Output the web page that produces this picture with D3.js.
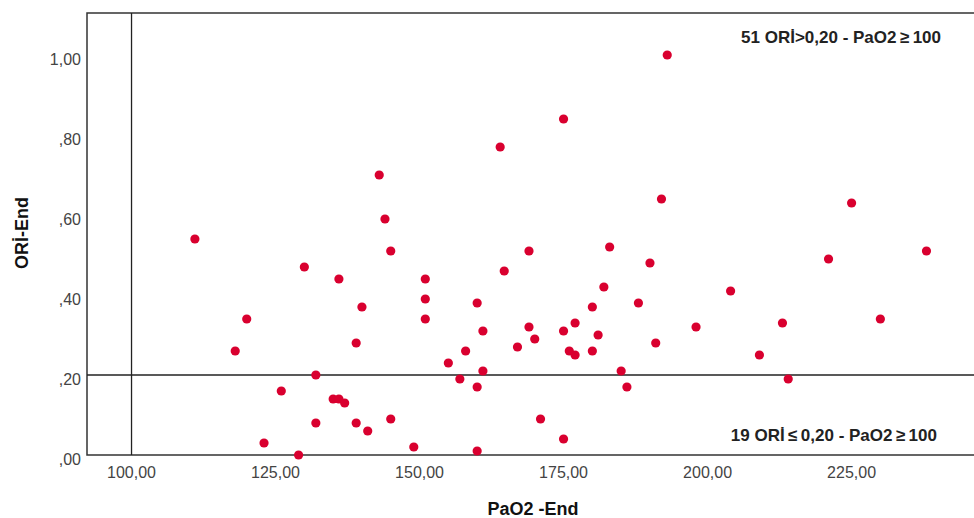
<!DOCTYPE html>
<html lang="tr">
<head>
<meta charset="UTF-8">
<title>ORİ-End / PaO2 -End</title>
<script src="https://cdn.jsdelivr.net/npm/d3@7"></script>
<style>
    body { margin: 0; background: #fff; }
    svg { display: block; font-family: "Liberation Sans", Arial, sans-serif; }
    .tick-label { font-size: 16px; fill: #444; }
    .axis-title { font-size: 18px; font-weight: bold; fill: #111; }
    .note { font-size: 17px; font-weight: bold; fill: #222; }
</style>
</head>
<body>
<div id="chart"></div>
<script>
    // PaO2 -End values
    const pao2 = [111, 120, 118, 130, 126, 123, 129, 132, 132, 135, 136, 137, 136, 139, 140, 139, 141,
        143, 144, 145, 145, 149, 151, 151, 151, 155, 157, 158, 160, 160, 161, 161, 160, 164, 164.7,
        167, 169, 169, 170, 171, 175, 175, 175, 176, 177, 177, 180, 180, 181, 182, 183, 185, 186,
        188, 190, 191, 193, 192, 198, 204, 209, 213, 214, 221, 225, 230, 238];
    // ORİ-End values
    const ori = [0.54, 0.34, 0.26, 0.47, 0.16, 0.03, 0.00, 0.20, 0.08, 0.14, 0.14, 0.13, 0.44, 0.28, 0.37, 0.08, 0.06,
        0.70, 0.59, 0.51, 0.09, 0.02, 0.44, 0.39, 0.34, 0.23, 0.19, 0.26, 0.17, 0.38, 0.21, 0.31, 0.01, 0.77, 0.46,
        0.27, 0.51, 0.32, 0.29, 0.09, 0.84, 0.31, 0.04, 0.26, 0.25, 0.33, 0.37, 0.26, 0.30, 0.42, 0.52, 0.21, 0.17,
        0.38, 0.48, 0.28, 1.00, 0.64, 0.32, 0.41, 0.25, 0.33, 0.19, 0.49, 0.63, 0.34, 0.51];
    const xTicks = [100, 125, 150, 175, 200, 225];
    const yTicks = [0, 0.2, 0.4, 0.6, 0.8, 1.0];
    const refX = 100, refY = 0.20;
    const notes = ["51 ORİ>0,20 - PaO2\u2009≥\u2009100", "19 ORİ\u2009≤\u20090,20 - PaO2\u2009≥\u2009100"];

    const width = 974, height = 518;
    const plotLeft = 87, plotTop = 13, plotBottom = 455, plotRight = 976;

    const x = d3.scaleLinear().domain([92.27, 246.6]).range([plotLeft, plotRight]);
    const y = d3.scaleLinear().domain([0, 1.105]).range([plotBottom, plotTop]);

    const comma = v => d3.format(".2f")(v).replace(".", ",");
    const yFmt = v => comma(v).replace(/^0/, "");

    const svg = d3.select("#chart").append("svg")
        .attr("width", width)
        .attr("height", height);

    // frame: left, top, bottom
    svg.append("path")
        .attr("d", `M${plotRight},${plotTop}H${plotLeft}V${plotBottom}H${plotRight}`)
        .attr("fill", "none")
        .attr("stroke", "#333")
        .attr("stroke-width", 1.5);

    // reference lines
    svg.append("line")
        .attr("x1", x(refX)).attr("x2", x(refX))
        .attr("y1", plotTop).attr("y2", plotBottom)
        .attr("stroke", "#222").attr("stroke-width", 1.3);
    svg.append("line")
        .attr("x1", plotLeft).attr("x2", plotRight)
        .attr("y1", y(refY)).attr("y2", y(refY))
        .attr("stroke", "#222").attr("stroke-width", 1.3);

    // tick labels
    svg.selectAll(".xt").data(xTicks).enter().append("text")
        .attr("class", "tick-label")
        .attr("x", d => x(d))
        .attr("y", plotBottom + 23)
        .attr("text-anchor", "middle")
        .text(comma);
    svg.selectAll(".yt").data(yTicks).enter().append("text")
        .attr("class", "tick-label")
        .attr("x", plotLeft - 6)
        .attr("y", d => y(d) + 10)
        .attr("text-anchor", "end")
        .text(yFmt);

    // axis titles
    svg.append("text")
        .attr("class", "axis-title")
        .attr("x", 533).attr("y", 515)
        .attr("text-anchor", "middle")
        .text("PaO2 -End");
    svg.append("text")
        .attr("class", "axis-title")
        .attr("transform", "translate(28,233) rotate(-90)")
        .attr("text-anchor", "middle")
        .text("ORİ-End");

    // points
    svg.selectAll("circle").data(pao2).enter().append("circle")
        .attr("cx", d => x(d))
        .attr("cy", (d, i) => y(ori[i]))
        .attr("r", 4.6)
        .attr("fill", "#d9002f");

    // quadrant notes
    svg.append("text").attr("class", "note")
        .attr("x", 941).attr("y", 43)
        .attr("text-anchor", "end")
        .text(notes[0]);
    svg.append("text").attr("class", "note")
        .attr("x", 937).attr("y", 441)
        .attr("text-anchor", "end")
        .text(notes[1]);
</script>
</body>
</html>
